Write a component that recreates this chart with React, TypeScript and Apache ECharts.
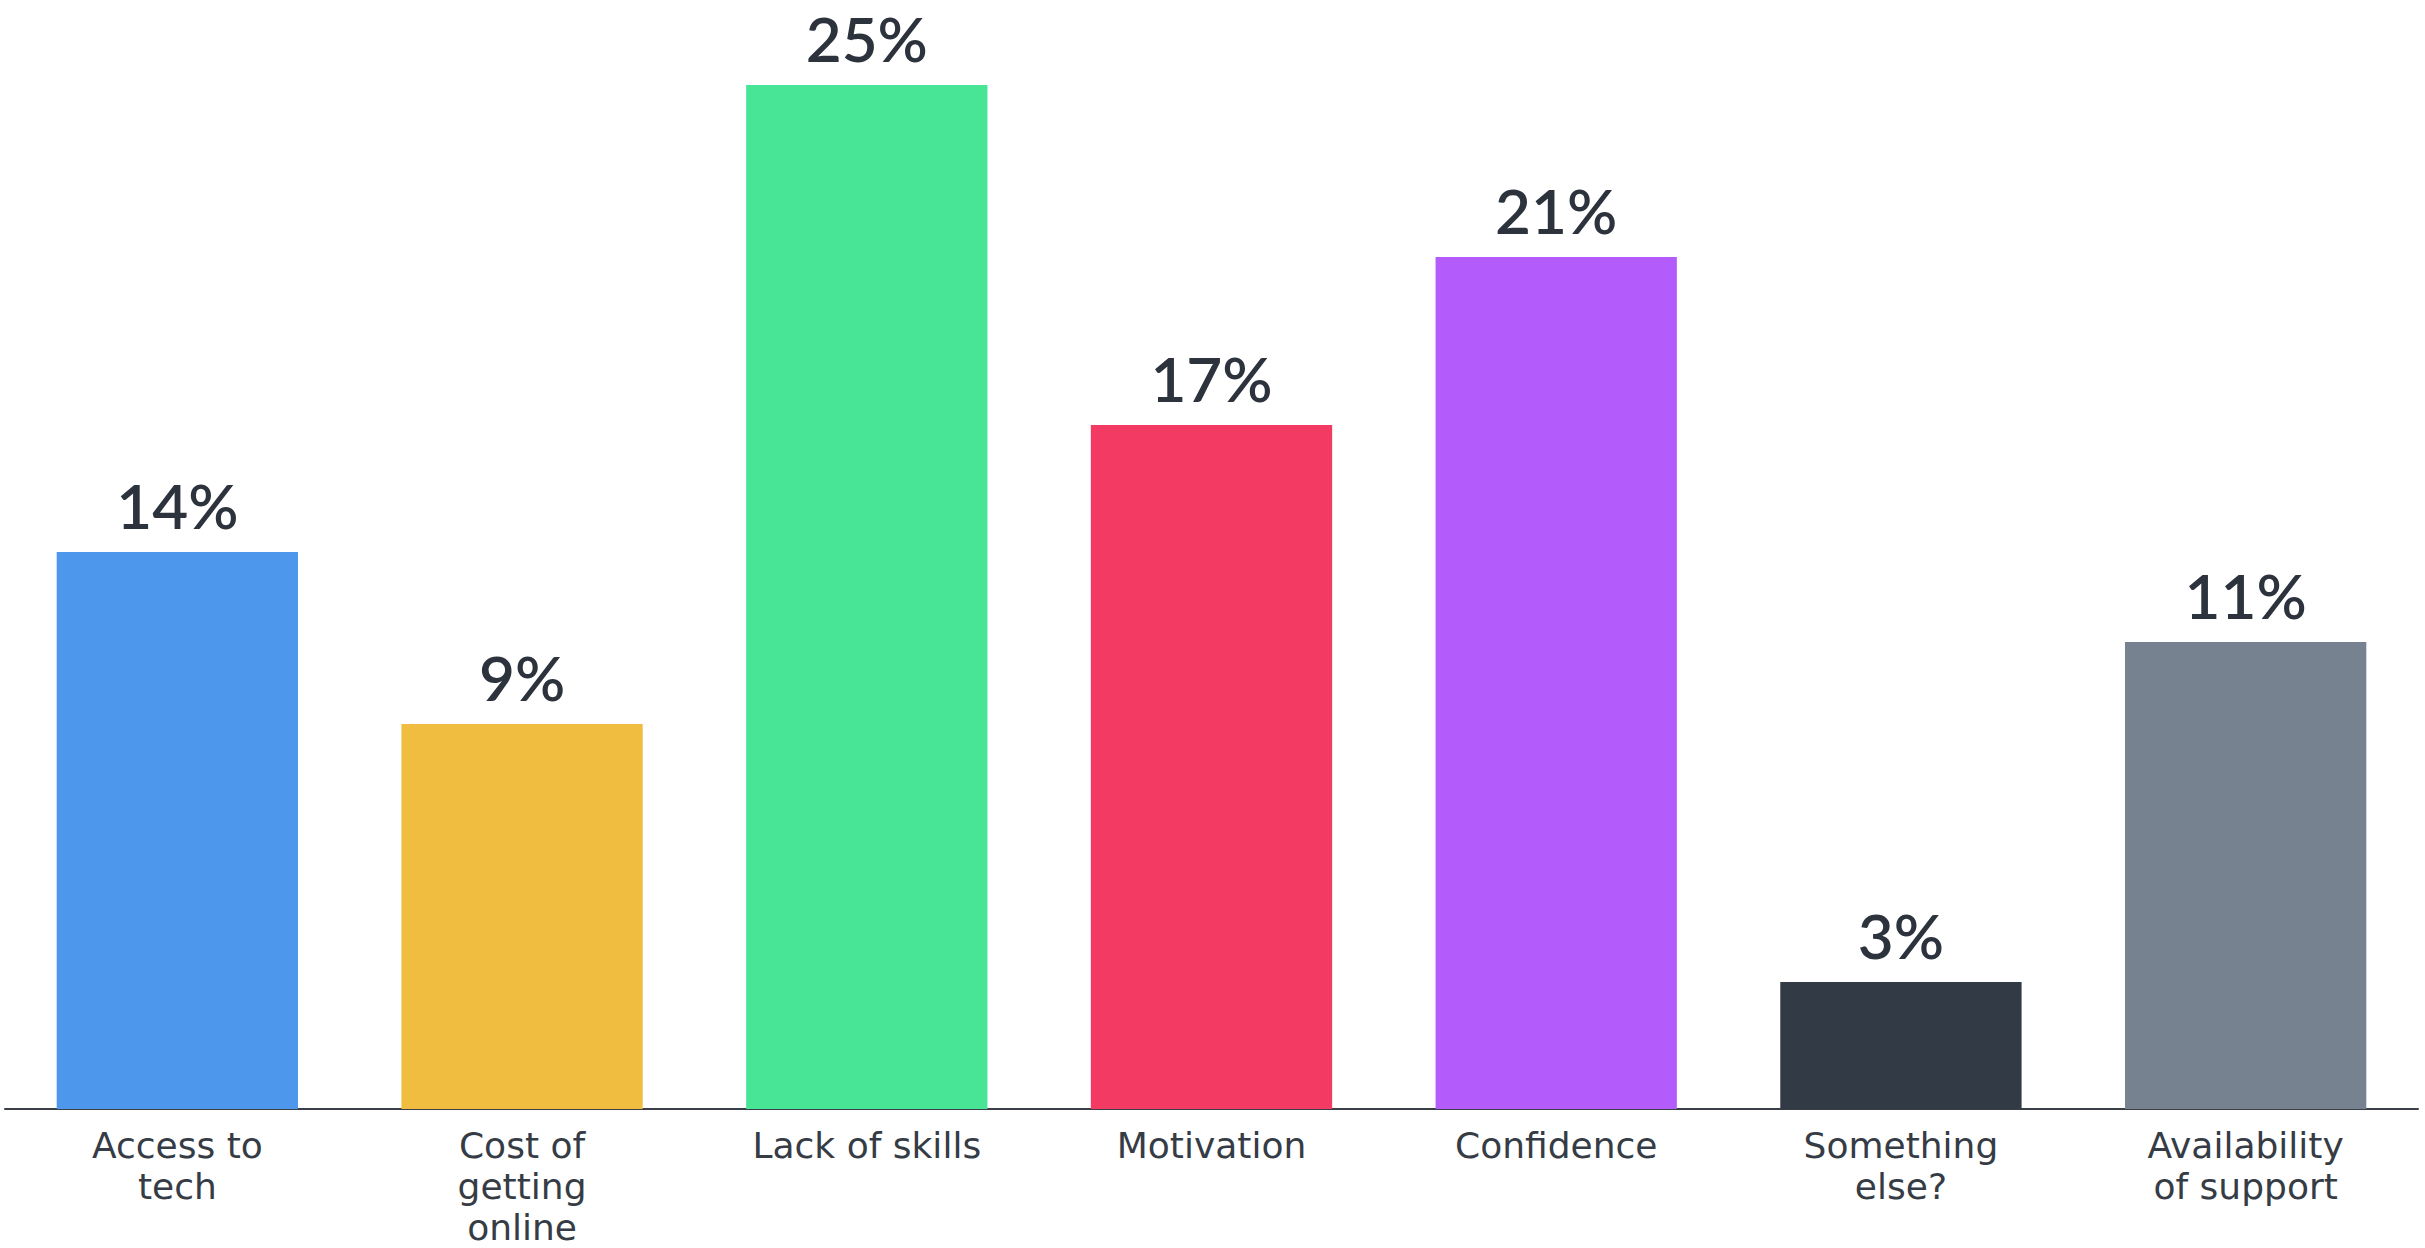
import React, { useEffect, useRef } from "react";
import * as echarts from "echarts";

const categories: string[] = [
  "Access to\ntech",
  "Cost of\ngetting\nonline",
  "Lack of skills",
  "Motivation",
  "Confidence",
  "Something\nelse?",
  "Availability\nof support",
];

const values: number[] = [13.6, 9.4, 25.0, 16.7, 20.8, 3.1, 11.4];

const barColors: string[] = [
  "#4d97ec",
  "#f0bd41",
  "#48e596",
  "#f23a62",
  "#b35cfb",
  "#323a45",
  "#76828f",
];

const yMax = 27;

export default function App() {
  const ref = useRef<HTMLDivElement>(null);

  useEffect(() => {
    if (!ref.current) return;
    const chart = echarts.init(ref.current, undefined, { renderer: "svg" });
    chart.setOption({
      animation: false,
      backgroundColor: "#ffffff",
      grid: { left: 5, right: 7, top: 3, bottom: 134, containLabel: false },
      xAxis: {
        type: "category",
        data: categories,
        axisLine: { show: true, lineStyle: { color: "#3a3f47", width: 2 } },
        axisTick: { show: false },
        axisLabel: {
          interval: 0,
          margin: 16,
          color: "#363c45",
          fontFamily: "DejaVu Sans",
          fontWeight: "normal",
          fontSize: 36,
          lineHeight: 41,
        },
      },
      yAxis: {
        type: "value",
        min: 0,
        max: yMax,
        show: false,
        splitLine: { show: false },
      },
      series: [
        {
          type: "bar",
          barCategoryGap: "30%",
          data: values.map((v, i) => ({ value: v, itemStyle: { color: barColors[i] } })),
          label: {
            show: true,
            position: "top",
            distance: 19,
            color: "#2d333d",
            fontFamily: "Lato",
            fontWeight: 600,
            fontSize: 62,
            lineHeight: 56,
            formatter: (p: any) => `${Math.round(p.value)}%`,
          },
        },
      ],
    });
    return () => chart.dispose();
  }, []);

  return (
    <div
      ref={ref}
      style={{ position: "fixed", left: 0, top: 0, width: 2425, height: 1248 }}
    />
  );
}
